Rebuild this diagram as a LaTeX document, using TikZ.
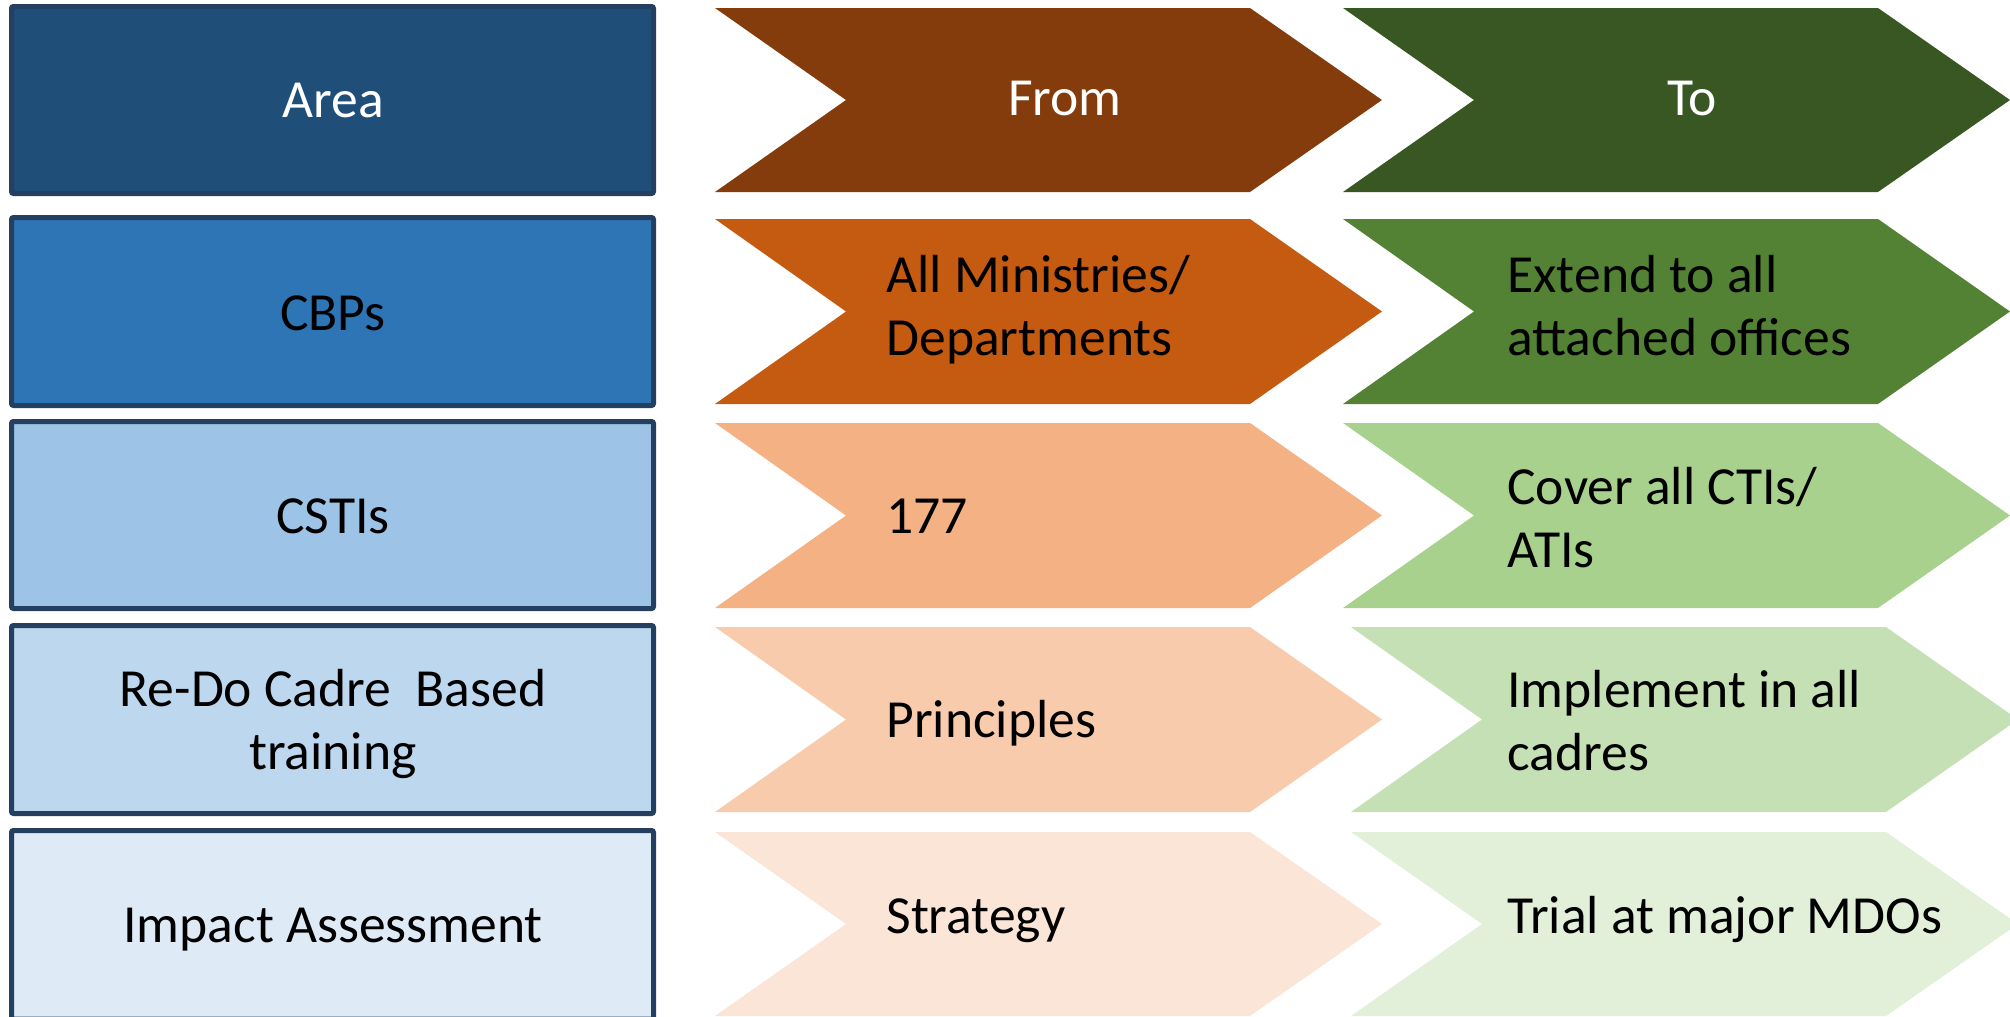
\documentclass[tikz,border=0pt]{standalone}
\usepackage{fontspec}
\setmainfont{Carlito}
\definecolor{edge}{HTML}{243F60}
\definecolor{aA}{HTML}{1F4E79}
\definecolor{aB}{HTML}{2E75B6}
\definecolor{aC}{HTML}{9DC3E6}
\definecolor{aD}{HTML}{BDD7EE}
\definecolor{aE}{HTML}{DEEBF7}
\definecolor{fA}{HTML}{843C0C}
\definecolor{fB}{HTML}{C55A11}
\definecolor{fC}{HTML}{F4B183}
\definecolor{fD}{HTML}{F8CBAD}
\definecolor{fE}{HTML}{FBE5D6}
\definecolor{gA}{HTML}{385723}
\definecolor{gB}{HTML}{548235}
\definecolor{gC}{HTML}{A9D18E}
\definecolor{gD}{HTML}{C5E0B4}
\definecolor{gE}{HTML}{E2F0D9}
\newcommand\chevpath[4]{% fill, left x, top y, bottom y
  \fill[#1] (#2,#3) -- ({#2+535},#3) -- ({#2+667},{(#3+#4)/2}) -- ({#2+535},#4)
    -- (#2,#4) -- ({#2+131},{(#3+#4)/2}) -- cycle;}
\newcommand\mlL[1]{\begin{tabular}[t]{@{}l@{}}#1\end{tabular}}
\newcommand\mlC[1]{\begin{tabular}[t]{@{}c@{}}#1\end{tabular}}
\begin{document}
\begin{tikzpicture}[x=0.5pt,y=-0.5pt,
  areabox/.style={draw=edge, line width=2.5pt, rounded corners=1pt},
  txt/.style={inner sep=0pt, font=\fontsize{26.8}{31.8}\selectfont, text=black},
  head/.style={txt, text=white, anchor=base},
  ctr/.style={txt, anchor=base},
  lft/.style={txt, anchor=base west}]
\useasboundingbox (0,0) rectangle (2010,1017);
\clip (0,0) rectangle (2010,1017);
% left column boxes
\path[areabox, fill=aA] (11.5,6.5) rectangle (653.5,193.5);
\path[areabox, fill=aB] (11.5,217.5) rectangle (653.5,405.5);
\path[areabox, fill=aC] (11.5,421.5) rectangle (653.5,608.5);
\path[areabox, fill=aD] (11.5,625.5) rectangle (653.5,813.5);
\path[areabox, fill=aE] (11.5,830.5) rectangle (653.5,1019);
% From chevrons
\chevpath{fA}{715}{8}{192}
\chevpath{fB}{715}{219}{404}
\chevpath{fC}{715}{423}{608}
\chevpath{fD}{715}{627}{812}
\chevpath{fE}{715}{832}{1016}
% To chevrons
\chevpath{gA}{1343}{8}{192}
\chevpath{gB}{1343}{219}{404}
\chevpath{gC}{1343}{423}{608}
\chevpath{gD}{1351}{627}{812}
\chevpath{gE}{1351}{832}{1016}
% texts
\node[head] (tArea) at (333,117) {Area};
\node[ctr] (tCBP) at (333,330) {CBPs};
\node[ctr] (tCSTI) at (333,533) {CSTIs};
\node[ctr] (tRedo) at (333,706) {\mlC{Re-Do Cadre\ \ Based\\training}};
\node[ctr] (tImp) at (333,942) {Impact Assessment};
\node[head] (tFrom) at (1065,115) {From};
\node[lft] (fB) at (886,292) {\mlL{All Ministries/\\Departments}};
\node[lft] (fC) at (886,533) {177};
\node[lft] (fD) at (886,737) {Principles};
\node[lft] (fE) at (886,933) {Strategy};
\node[head] (tTo) at (1692,115) {To};
\node[lft] (gB) at (1507,292) {\mlL{Extend to all\\attached offices}};
\node[lft] (gC) at (1507,504) {\mlL{Cover all CTIs/\\ATIs}};
\node[lft] (gD) at (1507,707) {\mlL{Implement in all\\cadres}};
\node[lft] (gE) at (1507,933) {Trial at major MDOs};
\end{tikzpicture}
\end{document}
